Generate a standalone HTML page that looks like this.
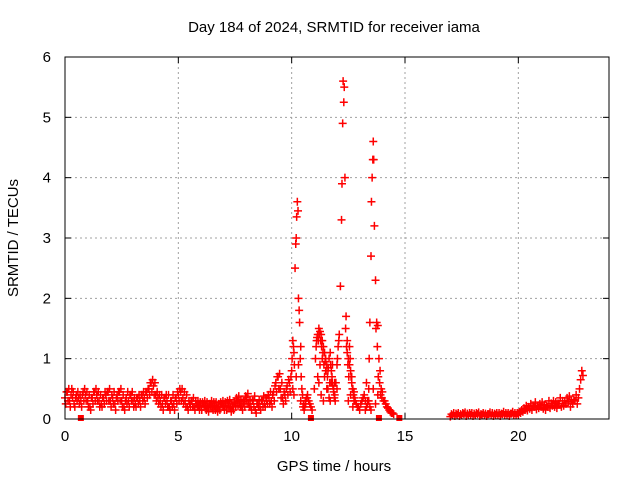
<!DOCTYPE html>
<html><head><meta charset="utf-8"><style>
body{margin:0;background:#fff}
svg{display:block;font-family:"Liberation Sans",sans-serif}
</style></head><body>
<svg id="c" width="640" height="480">
<text x="334" y="32" font-size="15" text-anchor="middle">Day 184 of 2024, SRMTID for receiver iama</text>
<text x="334" y="471" font-size="15" text-anchor="middle">GPS time / hours</text>
<text x="18" y="238" font-size="15" text-anchor="middle" transform="rotate(-90 18 238)">SRMTID / TECUs</text>
<g id="grid"></g><g id="marks"></g>
<rect x="65" y="57" width="544" height="362" fill="none" stroke="#000" stroke-width="1"/>
</svg>
<script>
const xTicks=[0,5,10,15,20];
const yTicks=[0,1,2,3,4,5,6];
const segAStart=0, segAStep=0.1;
const segAValues=[0.35,0.45,0.3,0.5,0.25,0.4,0.35,0.3,0.45,0.4,
0.3,0.2,0.35,0.45,0.4,0.3,0.25,0.35,0.4,0.45,
0.3,0.35,0.25,0.4,0.45,0.3,0.2,0.35,0.3,0.4,
0.3,0.25,0.35,0.3,0.4,0.35,0.45,0.5,0.6,0.55,
0.4,0.35,0.3,0.25,0.35,0.3,0.2,0.3,0.25,0.35,
0.4,0.45,0.35,0.3,0.2,0.25,0.3,0.2,0.25,0.22,
0.2,0.25,0.22,0.18,0.25,0.2,0.22,0.18,0.2,0.25,
0.2,0.22,0.25,0.18,0.2,0.28,0.3,0.25,0.2,0.3,
0.35,0.25,0.2,0.3,0.15,0.25,0.2,0.3,0.25,0.3,
0.35,0.3,0.45,0.6,0.7,0.5,0.35,0.4,0.55,0.6];
const segALow=[0.25,0.3,0.2,0.35,0.2,0.3,0.25,0.2,0.3,0.3,
0.2,0.15,0.25,0.3,0.3,0.2,0.2,0.25,0.3,0.3,
0.2,0.25,0.15,0.3,0.3,0.2,0.15,0.25,0.2,0.3,
0.2,0.2,0.25,0.2,0.3,0.25,0.35,0.4,0.45,0.4,
0.3,0.25,0.2,0.15,0.25,0.2,0.15,0.2,0.15,0.25,
0.3,0.3,0.25,0.2,0.15,0.2,0.2,0.15,0.2,0.15,
0.15,0.2,0.15,0.12,0.2,0.15,0.15,0.12,0.15,0.2,
0.15,0.15,0.2,0.12,0.15,0.2,0.22,0.2,0.15,0.2,
0.25,0.2,0.15,0.2,0.1,0.2,0.15,0.2,0.2,0.25,
0.25,0.2,0.3,0.45,0.5,0.35,0.25,0.3,0.4,0.45];
const segAHigh=[0.45,0.5,0.4,0.45,0.35,0.45,0.4,0.4,0.5,0.45,
0.4,0.35,0.45,0.5,0.45,0.4,0.35,0.45,0.45,0.5,
0.4,0.45,0.35,0.45,0.5,0.4,0.3,0.45,0.4,0.45,
0.35,0.35,0.4,0.4,0.45,0.45,0.5,0.6,0.65,0.6,
0.45,0.4,0.4,0.35,0.4,0.4,0.3,0.4,0.35,0.45,
0.5,0.5,0.45,0.4,0.3,0.3,0.35,0.3,0.3,0.28,
0.28,0.3,0.28,0.25,0.3,0.28,0.28,0.25,0.28,0.3,
0.28,0.3,0.32,0.25,0.28,0.35,0.38,0.32,0.28,0.38,
0.42,0.32,0.3,0.38,0.25,0.32,0.3,0.38,0.35,0.4,
0.45,0.4,0.55,0.7,0.75,0.6,0.45,0.5,0.65,0.7];
const segBTimes=[10.0,10.05,10.1,10.15,10.18,10.2,10.22,10.25,10.28,10.3,10.33,10.35,10.4,10.45,10.5,10.55,10.6,10.65,10.7,10.8,10.9,11.0,11.05,11.1,11.15,11.2,11.25,11.3,11.35,11.4,11.45,11.5,11.55,11.6,11.65,11.7,11.75,11.8,11.85,11.9,11.95,12.0,12.05,12.1,12.15,12.2,12.22,12.25,12.27,12.3,12.32,12.35,12.4,12.45,12.5,12.55,12.6,12.65,12.7,12.75,12.8,12.9,13.0,13.1,13.2,13.3,13.4,13.45,13.5,13.52,13.55,13.58,13.6,13.62,13.65,13.7,13.75,13.8,13.85,13.9,13.95,14.0,14.1,14.2,14.3,14.4,14.5,
10.05,10.1,10.2,10.3,10.4,11.2,11.3,11.4,11.5,11.6,11.7,11.8,11.9,12.0,12.5,12.6,12.7,13.3,13.4,13.5,13.6,13.7,13.8,
10.02,10.08,10.12,10.38,10.42,10.48,10.52,10.58,10.62,10.68,10.75,10.85,11.08,11.12,11.18,11.22,11.28,11.32,11.38,11.42,11.48,11.52,11.58,11.62,11.68,11.72,11.78,11.82,11.88,11.92,12.02,12.08,12.38,12.42,12.48,12.52,12.58,12.62,12.68,12.72,12.78,12.85,12.95,13.05,13.15,13.25,13.35,13.42,13.72,13.78,13.82,13.88,13.92,13.98,14.05,14.15,14.25,14.35,14.45,
11.15,11.25,11.35,11.45,11.55,11.65,11.75,11.85,12.45,12.55,12.65,12.75,13.25,13.35,13.45];
const segBValues=[0.8,1.3,1.1,2.5,2.9,3.0,3.35,3.6,3.45,2.0,1.8,1.6,1.2,0.5,0.2,0.15,0.3,0.35,0.4,0.25,0.15,0.5,1.0,1.3,1.4,1.5,1.45,1.4,1.3,1.2,1.1,1.0,0.9,0.8,1.0,1.1,0.8,0.6,0.5,0.4,0.6,0.9,1.2,1.4,2.2,3.3,3.9,4.9,5.6,5.25,5.5,4.0,1.7,1.3,1.0,1.2,0.8,0.6,0.5,0.3,0.3,0.2,0.15,0.3,0.4,0.2,0.5,1.6,2.7,3.6,4.0,4.3,4.6,4.3,3.2,2.3,1.6,1.55,1.0,0.8,0.5,0.45,0.3,0.2,0.15,0.1,0.08,
0.5,0.4,0.7,0.9,0.3,0.6,0.4,0.3,0.8,0.5,0.3,0.9,0.6,0.5,0.3,0.4,0.2,0.6,0.3,0.15,0.5,0.25,0.4,
1.0,1.2,0.9,1.0,0.7,0.4,0.25,0.2,0.25,0.35,0.3,0.2,1.2,1.35,1.3,1.4,1.3,1.2,1.1,0.9,0.95,0.8,0.7,0.85,0.6,0.9,0.7,0.55,0.35,0.3,1.0,1.3,1.5,1.2,0.9,0.7,1.0,0.7,0.5,0.4,0.35,0.25,0.2,0.25,0.35,0.3,0.25,1.0,1.5,1.2,0.7,0.6,0.4,0.35,0.3,0.25,0.18,0.12,0.1,
0.7,0.9,1.0,0.7,0.5,0.35,0.6,0.45,1.1,0.9,0.7,0.45,0.15,0.3,0.2];
const segCStart=17.0, segCStep=0.1;
const segCValues=[0.04,0.06,0.05,0.07,0.05,0.06,0.08,0.05,0.06,0.07,
0.05,0.06,0.08,0.05,0.07,0.06,0.05,0.08,0.06,0.05,
0.07,0.06,0.05,0.08,0.06,0.07,0.05,0.09,0.07,0.06,
0.08,0.1,0.12,0.15,0.14,0.17,0.15,0.2,0.16,0.18,
0.2,0.17,0.15,0.2,0.18,0.22,0.2,0.18,0.25,0.2,
0.22,0.25,0.28,0.2,0.25,0.3,0.25,0.5,0.8];
const segCHigh=[0.08,0.1,0.09,0.1,0.08,0.1,0.11,0.09,0.1,0.1,
0.09,0.1,0.11,0.08,0.1,0.09,0.08,0.11,0.1,0.09,
0.1,0.1,0.09,0.12,0.1,0.1,0.09,0.12,0.1,0.1,
0.12,0.15,0.18,0.22,0.2,0.25,0.22,0.28,0.22,0.25,
0.28,0.24,0.22,0.3,0.26,0.3,0.28,0.26,0.35,0.3,
0.3,0.35,0.38,0.3,0.32,0.4,0.35,0.65,0.72];
const squareTimes=[0.7,10.85,13.85,14.75];
const X=t=>65+t*(544/24), Y=v=>419-v*(362/6);
const ns="http://www.w3.org/2000/svg";
const grid=document.getElementById('grid'), marks=document.getElementById('marks');
function el(tag,attrs,parent){const e=document.createElementNS(ns,tag);for(const k in attrs)e.setAttribute(k,attrs[k]);parent.appendChild(e);return e;}
xTicks.forEach(t=>{const x=X(t);
 if(t>0){const g=el('line',{x1:x,y1:57,x2:x,y2:419,stroke:'#a0a0a0','stroke-dasharray':'2,3'},grid);
 
 }
 el('line',{x1:x,y1:419,x2:x,y2:413,stroke:'#000'},grid);el('line',{x1:x,y1:57,x2:x,y2:63,stroke:'#000'},grid);
 const tx=el('text',{x:x,y:441,'font-size':15,'text-anchor':'middle'},grid);tx.textContent=t;
 
 });
yTicks.forEach(v=>{const y=Y(v);
 if(v>0&&v<6){const g=el('line',{x1:65,y1:y,x2:609,y2:y,stroke:'#a0a0a0','stroke-dasharray':'2,3'},grid);
 
 }
 el('line',{x1:65,y1:y,x2:71,y2:y,stroke:'#000'},grid);el('line',{x1:609,y1:y,x2:603,y2:y,stroke:'#000'},grid);
 const tx=el('text',{x:51,y:y+5,'font-size':15,'text-anchor':'end'},grid);tx.textContent=v;
 
 });
function plus(t,v){const x=X(t),y=Y(v);
 const p=el('path',{d:`M${x-4},${y}h8M${x},${y-4}v8`,stroke:'#f00','stroke-width':1.5,fill:'none'},marks);
 
 }
segAValues.forEach((v,i)=>{const t=segAStart+i*segAStep;plus(t,v);plus(t+segAStep/3,segALow[i]);plus(t+2*segAStep/3,segAHigh[i]);});
segBTimes.forEach((t,i)=>plus(t,segBValues[i]));
segCValues.forEach((v,i)=>{const t=segCStart+i*segCStep;plus(t,v);plus(t+segCStep/2,segCHigh[i]);});
squareTimes.forEach(t=>{const r=el('rect',{x:X(t)-3,y:415,width:6,height:6,fill:'#f00'},marks);
 
 });
</script>
</body></html>
